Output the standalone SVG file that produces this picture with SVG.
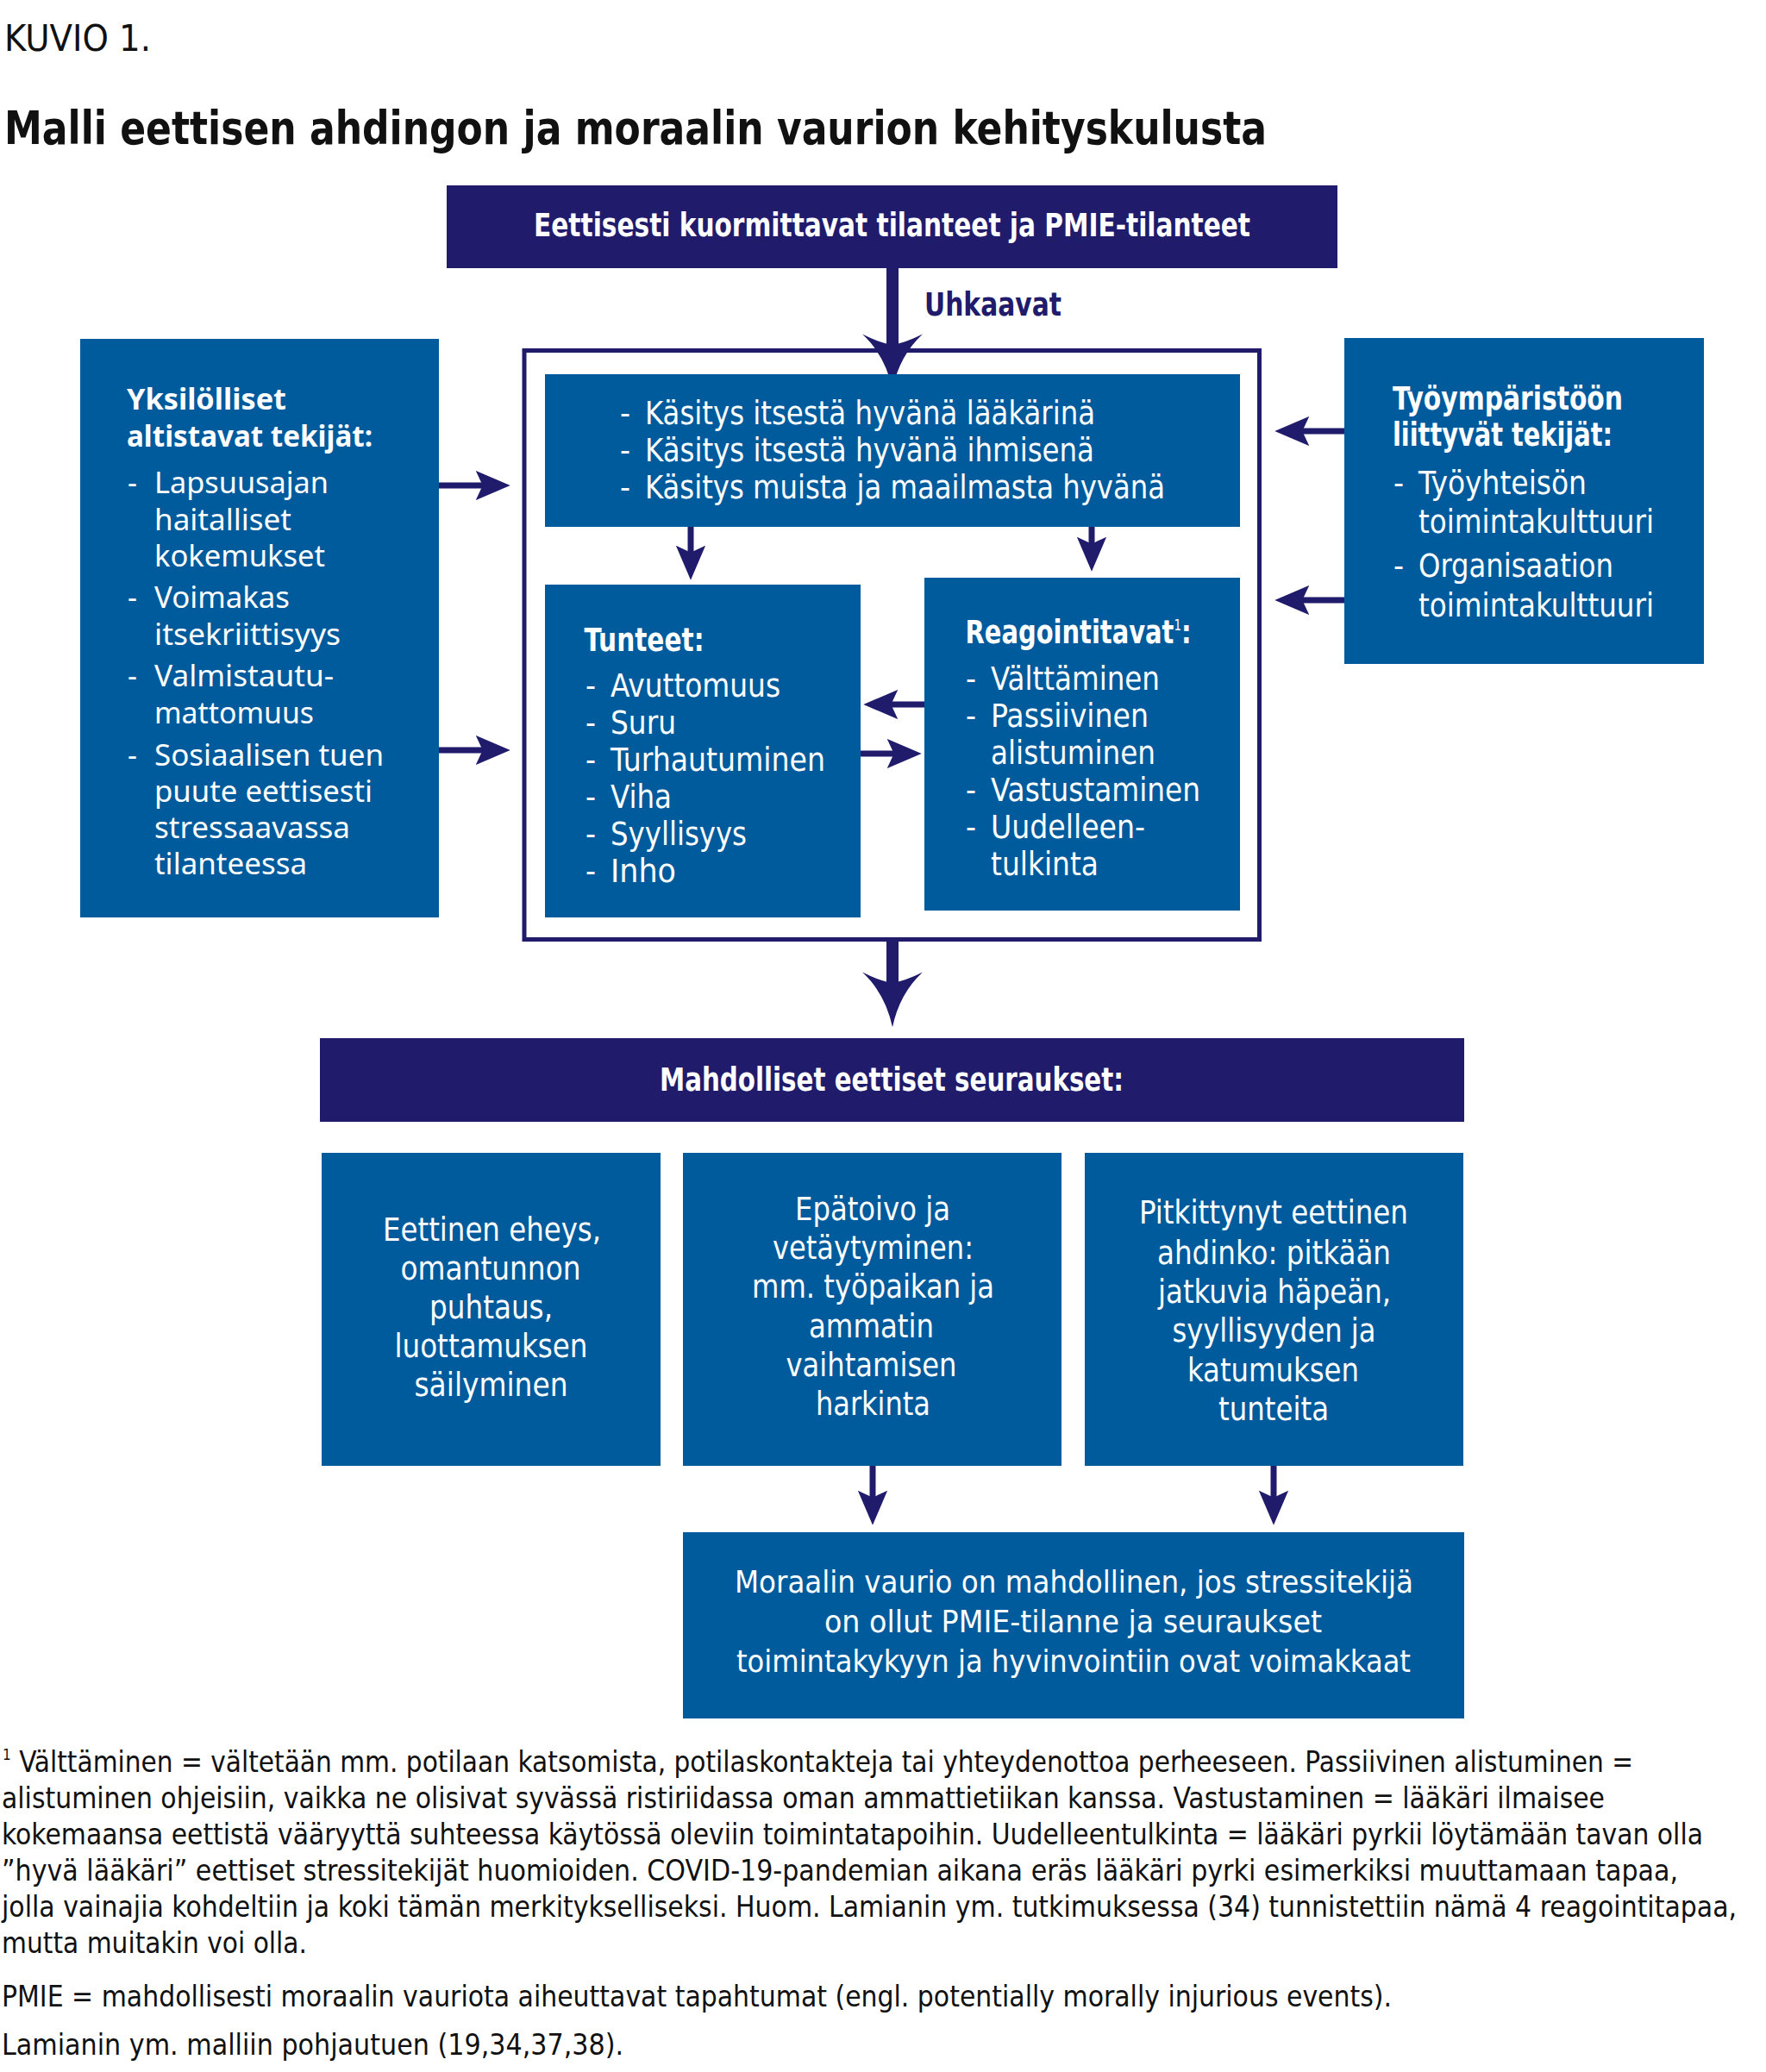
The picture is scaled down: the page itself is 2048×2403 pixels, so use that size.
<svg xmlns="http://www.w3.org/2000/svg" width="2048" height="2403" viewBox="0 0 2048 2403">
<style>
.bg{fill:#ffffff}
.blue{fill:#005B9D}
.navy{fill:#201B6B}
.frame{fill:none;stroke:#201B6B;stroke-width:5}
.t{font-family:"Liberation Sans Narrow","DejaVu Sans Condensed","Liberation Sans",sans-serif;fill:#ffffff;font-size:37px}
.w{font-family:"Noto Sans","Open Sans","Liberation Sans",sans-serif;fill:#ffffff;font-size:34px}
.b{font-weight:bold}
.k{fill:#111111}
.n{fill:#201B6B}
.fn{font-family:"Liberation Sans Narrow","DejaVu Sans Condensed","Liberation Sans",sans-serif;fill:#111111;font-size:33px}
.sup{font-size:17px;font-weight:normal}
.ln{stroke:#201B6B;fill:none}
.s{stroke-width:7}
.g{stroke-width:14}
</style>
<defs>
<marker id="ahS" markerUnits="userSpaceOnUse" markerWidth="40" markerHeight="40" viewBox="0 -16 35 32" refX="9" refY="0" orient="auto">
<path d="M35,0 L0,-15 L7,0 L0,15 Z" fill="#201B6B"/>
</marker>
<marker id="ahB" markerUnits="userSpaceOnUse" markerWidth="70" markerHeight="72" viewBox="0 -35 62 70" refX="16" refY="0" orient="auto">
<path d="M62,0 Q24,-8 0,-34 Q10,-14 12,0 Q10,14 0,34 Q24,8 62,0 Z" fill="#201B6B"/>
</marker>
</defs>
<rect class="bg" x="0" y="0" width="2048" height="2403"/>

<g id="heading">
<text class="t k" x="5" y="59" style="font-size:43px" textLength="170" lengthAdjust="spacingAndGlyphs">KUVIO 1.</text>
<text class="t k b" x="5" y="167" style="font-size:53px" textLength="1464" lengthAdjust="spacingAndGlyphs">Malli eettisen ahdingon ja moraalin vaurion kehityskulusta</text>
</g>

<g id="connectors">
<line class="ln g" x1="1035" y1="311" x2="1035" y2="404" marker-end="url(#ahB)"/>
<line class="ln g" x1="1035" y1="1092" x2="1035" y2="1144" marker-end="url(#ahB)"/>
<line class="ln s" x1="509" y1="563" x2="562" y2="563" marker-end="url(#ahS)"/>
<line class="ln s" x1="509" y1="870" x2="562" y2="870" marker-end="url(#ahS)"/>
<line class="ln s" x1="1559" y1="500" x2="1508" y2="500" marker-end="url(#ahS)"/>
<line class="ln s" x1="1559" y1="696" x2="1508" y2="696" marker-end="url(#ahS)"/>
<line class="ln s" x1="801" y1="611" x2="801" y2="643" marker-end="url(#ahS)"/>
<line class="ln s" x1="1266" y1="611" x2="1266" y2="633" marker-end="url(#ahS)"/>
<line class="ln s" x1="1072" y1="817" x2="1031" y2="817" marker-end="url(#ahS)"/>
<line class="ln s" x1="998" y1="874" x2="1039" y2="874" marker-end="url(#ahS)"/>
<line class="ln s" x1="1012" y1="1700" x2="1012" y2="1739" marker-end="url(#ahS)"/>
<line class="ln s" x1="1477" y1="1700" x2="1477" y2="1739" marker-end="url(#ahS)"/>
</g>

<g id="n-top">
<rect class="navy" x="518" y="215" width="1033" height="96"/>
<text class="t b" x="619" y="274" textLength="831" lengthAdjust="spacingAndGlyphs">Eettisesti kuormittavat tilanteet ja PMIE-tilanteet</text>
</g>

<g id="l-uhkaavat">
<text class="t b n" x="1072" y="366" textLength="159" lengthAdjust="spacingAndGlyphs">Uhkaavat</text>
</g>

<g id="n-frame">
<rect class="frame" x="608" y="406.5" width="852.5" height="683"/>
</g>

<g id="n-kasitys">
<rect class="blue" x="632" y="434" width="806" height="177"/>
<text class="t" x="719" y="491.5">-</text>
<text class="t" x="748" y="491.5" textLength="522" lengthAdjust="spacingAndGlyphs">Käsitys itsestä hyvänä lääkärinä</text>
<text class="t" x="719" y="534.5">-</text>
<text class="t" x="748" y="534.5" textLength="521" lengthAdjust="spacingAndGlyphs">Käsitys itsestä hyvänä ihmisenä</text>
<text class="t" x="719" y="578">-</text>
<text class="t" x="748" y="578" textLength="603" lengthAdjust="spacingAndGlyphs">Käsitys muista ja maailmasta hyvänä</text>
</g>

<g id="n-yksilolliset">
<rect class="blue" x="93" y="393" width="416" height="671"/>
<text class="w b" x="147" y="475" textLength="185" lengthAdjust="spacingAndGlyphs">Yksilölliset</text>
<text class="w b" x="147" y="517.5" textLength="285" lengthAdjust="spacingAndGlyphs">altistavat tekijät:</text>
<text class="w" x="148" y="572">-</text>
<text class="w" x="179" y="572" textLength="202" lengthAdjust="spacingAndGlyphs">Lapsuusajan</text>
<text class="w" x="179" y="615" textLength="159" lengthAdjust="spacingAndGlyphs">haitalliset</text>
<text class="w" x="179" y="657" textLength="198" lengthAdjust="spacingAndGlyphs">kokemukset</text>
<text class="w" x="148" y="704.5">-</text>
<text class="w" x="179" y="704.5" textLength="157" lengthAdjust="spacingAndGlyphs">Voimakas</text>
<text class="w" x="179" y="748" textLength="216" lengthAdjust="spacingAndGlyphs">itsekriittisyys</text>
<text class="w" x="148" y="796">-</text>
<text class="w" x="179" y="796" textLength="208" lengthAdjust="spacingAndGlyphs">Valmistautu-</text>
<text class="w" x="179" y="839" textLength="185" lengthAdjust="spacingAndGlyphs">mattomuus</text>
<text class="w" x="148" y="887.5">-</text>
<text class="w" x="179" y="887.5" textLength="266" lengthAdjust="spacingAndGlyphs">Sosiaalisen tuen</text>
<text class="w" x="179" y="929.5" textLength="253" lengthAdjust="spacingAndGlyphs">puute eettisesti</text>
<text class="w" x="179" y="971.5" textLength="227" lengthAdjust="spacingAndGlyphs">stressaavassa</text>
<text class="w" x="179" y="1014" textLength="177" lengthAdjust="spacingAndGlyphs">tilanteessa</text>
</g>

<g id="n-tyoymparisto">
<rect class="blue" x="1559" y="392" width="417" height="378"/>
<text class="t b" x="1615" y="475" textLength="267" lengthAdjust="spacingAndGlyphs">Työympäristöön</text>
<text class="t b" x="1615" y="517" textLength="255" lengthAdjust="spacingAndGlyphs">liittyvät tekijät:</text>
<text class="t" x="1616" y="573">-</text>
<text class="t" x="1645" y="573" textLength="195" lengthAdjust="spacingAndGlyphs">Työyhteisön</text>
<text class="t" x="1645" y="618" textLength="273" lengthAdjust="spacingAndGlyphs">toimintakulttuuri</text>
<text class="t" x="1616" y="669">-</text>
<text class="t" x="1645" y="669" textLength="226" lengthAdjust="spacingAndGlyphs">Organisaation</text>
<text class="t" x="1645" y="715" textLength="273" lengthAdjust="spacingAndGlyphs">toimintakulttuuri</text>
</g>

<g id="n-tunteet">
<rect class="blue" x="632" y="678" width="366" height="386"/>
<text class="t b" x="677.5" y="755" textLength="139" lengthAdjust="spacingAndGlyphs">Tunteet:</text>
<text class="t" x="679" y="808">-</text>
<text class="t" x="708" y="808" textLength="197" lengthAdjust="spacingAndGlyphs">Avuttomuus</text>
<text class="t" x="679" y="851">-</text>
<text class="t" x="708" y="851" textLength="76" lengthAdjust="spacingAndGlyphs">Suru</text>
<text class="t" x="679" y="894">-</text>
<text class="t" x="708" y="894" textLength="249" lengthAdjust="spacingAndGlyphs">Turhautuminen</text>
<text class="t" x="679" y="937">-</text>
<text class="t" x="708" y="937" textLength="71" lengthAdjust="spacingAndGlyphs">Viha</text>
<text class="t" x="679" y="980">-</text>
<text class="t" x="708" y="980" textLength="158" lengthAdjust="spacingAndGlyphs">Syyllisyys</text>
<text class="t" x="679" y="1023">-</text>
<text class="t" x="708" y="1023" textLength="76" lengthAdjust="spacingAndGlyphs">Inho</text>
</g>

<g id="n-reagointitavat">
<rect class="blue" x="1072" y="670" width="366" height="386"/>
<text class="t b" x="1119.5" y="746" textLength="262" lengthAdjust="spacingAndGlyphs">Reagointitavat<tspan class="sup" dy="-15">1</tspan><tspan dy="15">:</tspan></text>
<text class="t" x="1120" y="800">-</text>
<text class="t" x="1149" y="800" textLength="196" lengthAdjust="spacingAndGlyphs">Välttäminen</text>
<text class="t" x="1120" y="843">-</text>
<text class="t" x="1149" y="843" textLength="183" lengthAdjust="spacingAndGlyphs">Passiivinen</text>
<text class="t" x="1149" y="886" textLength="191" lengthAdjust="spacingAndGlyphs">alistuminen</text>
<text class="t" x="1120" y="929">-</text>
<text class="t" x="1149" y="929" textLength="243" lengthAdjust="spacingAndGlyphs">Vastustaminen</text>
<text class="t" x="1120" y="972">-</text>
<text class="t" x="1149" y="972" textLength="179" lengthAdjust="spacingAndGlyphs">Uudelleen-</text>
<text class="t" x="1149" y="1015" textLength="125" lengthAdjust="spacingAndGlyphs">tulkinta</text>
</g>

<g id="n-seuraukset">
<rect class="navy" x="371" y="1204" width="1327" height="97"/>
<text class="t b" x="765" y="1264.5" textLength="538" lengthAdjust="spacingAndGlyphs">Mahdolliset eettiset seuraukset:</text>
</g>

<g id="n-eheys">
<rect class="blue" x="373" y="1337" width="393" height="363"/>
<text class="t" x="444" y="1439" textLength="253" lengthAdjust="spacingAndGlyphs">Eettinen eheys,</text>
<text class="t" x="464.5" y="1484" textLength="209" lengthAdjust="spacingAndGlyphs">omantunnon</text>
<text class="t" x="498" y="1529" textLength="143" lengthAdjust="spacingAndGlyphs">puhtaus,</text>
<text class="t" x="457.5" y="1574" textLength="224" lengthAdjust="spacingAndGlyphs">luottamuksen</text>
<text class="t" x="480.5" y="1619" textLength="178" lengthAdjust="spacingAndGlyphs">säilyminen</text>
</g>

<g id="n-epatoivo">
<rect class="blue" x="792" y="1337" width="439" height="363"/>
<text class="t" x="922" y="1415" textLength="180" lengthAdjust="spacingAndGlyphs">Epätoivo ja</text>
<text class="t" x="896" y="1460" textLength="233" lengthAdjust="spacingAndGlyphs">vetäytyminen:</text>
<text class="t" x="872" y="1505" textLength="281" lengthAdjust="spacingAndGlyphs">mm. työpaikan ja</text>
<text class="t" x="938" y="1551" textLength="145" lengthAdjust="spacingAndGlyphs">ammatin</text>
<text class="t" x="911.5" y="1596" textLength="198" lengthAdjust="spacingAndGlyphs">vaihtamisen</text>
<text class="t" x="946" y="1641" textLength="133" lengthAdjust="spacingAndGlyphs">harkinta</text>
</g>

<g id="n-pitkittynyt">
<rect class="blue" x="1258" y="1337" width="439" height="363"/>
<text class="t" x="1321" y="1419" textLength="312" lengthAdjust="spacingAndGlyphs">Pitkittynyt eettinen</text>
<text class="t" x="1342" y="1466" textLength="271" lengthAdjust="spacingAndGlyphs">ahdinko: pitkään</text>
<text class="t" x="1343" y="1511" textLength="270" lengthAdjust="spacingAndGlyphs">jatkuvia häpeän,</text>
<text class="t" x="1359.5" y="1556" textLength="236" lengthAdjust="spacingAndGlyphs">syyllisyyden ja</text>
<text class="t" x="1377" y="1602" textLength="199" lengthAdjust="spacingAndGlyphs">katumuksen</text>
<text class="t" x="1413" y="1647" textLength="128" lengthAdjust="spacingAndGlyphs">tunteita</text>
</g>

<g id="n-moraalinvaurio">
<rect class="blue" x="792" y="1777" width="906" height="216"/>
<text class="t" x="852" y="1847" style="font-size:36px" textLength="787" lengthAdjust="spacingAndGlyphs">Moraalin vaurio on mahdollinen, jos stressitekijä</text>
<text class="t" x="956" y="1893" style="font-size:36px" textLength="577" lengthAdjust="spacingAndGlyphs">on ollut PMIE-tilanne ja seuraukset</text>
<text class="t" x="854" y="1939" style="font-size:36px" textLength="782" lengthAdjust="spacingAndGlyphs">toimintakykyyn ja hyvinvointiin ovat voimakkaat</text>
</g>

<g id="footnotes">
<text class="fn" x="3" y="2055" textLength="1891" lengthAdjust="spacingAndGlyphs"><tspan class="sup" dy="-14">1</tspan><tspan dy="14"> Välttäminen = vältetään mm. potilaan katsomista, potilaskontakteja tai yhteydenottoa perheeseen. Passiivinen alistuminen =</tspan></text>
<text class="fn" x="2" y="2097" textLength="1859" lengthAdjust="spacingAndGlyphs">alistuminen ohjeisiin, vaikka ne olisivat syvässä ristiriidassa oman ammattietiikan kanssa. Vastustaminen = lääkäri ilmaisee</text>
<text class="fn" x="2" y="2139" textLength="1973" lengthAdjust="spacingAndGlyphs">kokemaansa eettistä vääryyttä suhteessa käytössä oleviin toimintatapoihin. Uudelleentulkinta = lääkäri pyrkii löytämään tavan olla</text>
<text class="fn" x="2" y="2181" textLength="1944" lengthAdjust="spacingAndGlyphs">”hyvä lääkäri” eettiset stressitekijät huomioiden. COVID-19-pandemian aikana eräs lääkäri pyrki esimerkiksi muuttamaan tapaa,</text>
<text class="fn" x="2" y="2223" textLength="2012" lengthAdjust="spacingAndGlyphs">jolla vainajia kohdeltiin ja koki tämän merkitykselliseksi. Huom. Lamianin ym. tutkimuksessa (34) tunnistettiin nämä 4 reagointitapaa,</text>
<text class="fn" x="2" y="2265" textLength="354" lengthAdjust="spacingAndGlyphs">mutta muitakin voi olla.</text>
<text class="fn" x="2" y="2327" textLength="1612" lengthAdjust="spacingAndGlyphs">PMIE = mahdollisesti moraalin vauriota aiheuttavat tapahtumat (engl. potentially morally injurious events).</text>
<text class="fn" x="2" y="2383" textLength="721" lengthAdjust="spacingAndGlyphs">Lamianin ym. malliin pohjautuen (19,34,37,38).</text>
</g>
</svg>
